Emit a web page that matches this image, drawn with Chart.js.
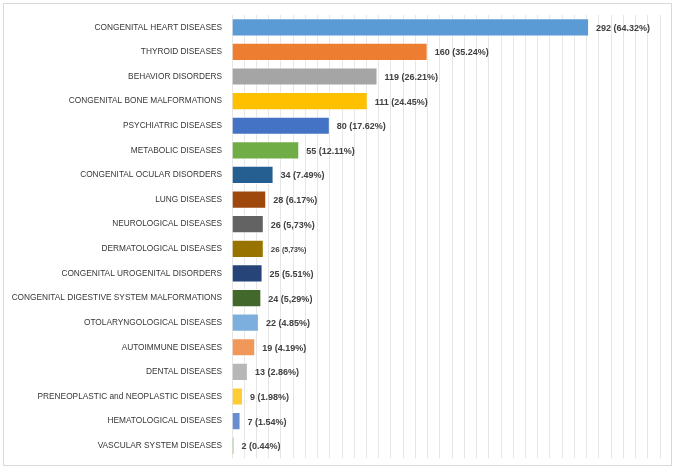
<!DOCTYPE html>
<html>
<head>
<meta charset="utf-8">
<script src="https://cdn.jsdelivr.net/npm/chart.js@4/dist/chart.umd.min.js"></script>
<style>
  html, body { margin: 0; padding: 0; background: #fff; }
  #wrap { position: relative; width: 675px; height: 473px; }
</style>
</head>
<body>
<div id="wrap"><canvas id="diseaseChart"></canvas></div>
<script>
const categories = [
  'CONGENITAL HEART DISEASES',
  'THYROID DISEASES',
  'BEHAVIOR DISORDERS',
  'CONGENITAL BONE MALFORMATIONS',
  'PSYCHIATRIC DISEASES',
  'METABOLIC DISEASES',
  'CONGENITAL OCULAR DISORDERS',
  'LUNG DISEASES',
  'NEUROLOGICAL DISEASES',
  'DERMATOLOGICAL DISEASES',
  'CONGENITAL UROGENITAL DISORDERS',
  'CONGENITAL DIGESTIVE SYSTEM MALFORMATIONS',
  'OTOLARYNGOLOGICAL DISEASES',
  'AUTOIMMUNE DISEASES',
  'DENTAL DISEASES',
  'PRENEOPLASTIC and NEOPLASTIC DISEASES',
  'HEMATOLOGICAL DISEASES',
  'VASCULAR SYSTEM DISEASES'
];
const counts = [292, 160, 119, 111, 80, 55, 34, 28, 26, 26, 25, 24, 22, 19, 13, 9, 7, 2];
const percentLabels = ['64.32%', '35.24%', '26.21%', '24.45%', '17.62%', '12.11%', '7.49%', '6.17%',
  '5,73%', '5,73%', '5.51%', '5,29%', '4.85%', '4.19%', '2.86%', '1.98%', '1.54%', '0.44%'];
const barColors = ['#5B9BD5', '#ED7D31', '#A5A5A5', '#FFC000', '#4472C4', '#70AD47', '#255E91', '#9E480E',
  '#636363', '#997300', '#264478', '#43682B', '#7CAFDD', '#F1975A', '#B7B7B7', '#FFCD33', '#698ED0', '#8CC168'];

const FONT = "'Liberation Sans', Arial, sans-serif";

// frame around the whole picture
const framePlugin = {
  id: 'frame',
  beforeDraw(chart) {
    const ctx = chart.ctx;
    ctx.save();
    ctx.strokeStyle = '#d9d9d9';
    ctx.lineWidth = 1;
    ctx.strokeRect(3.5, 3.5, 668, 462);
    ctx.restore();
  }
};

// "292 (64.32%)" at the end of each bar
const valueLabels = {
  id: 'valueLabels',
  afterDatasetsDraw(chart) {
    const ctx = chart.ctx;
    const meta = chart.getDatasetMeta(0);
    ctx.save();
    ctx.fillStyle = '#404040';
    ctx.textBaseline = 'middle';
    ctx.textAlign = 'left';
    meta.data.forEach((bar, i) => {
      const small = i === 9;
      const x = bar.x + 7;
      ctx.font = 'bold ' + (small ? 8 : 9) + 'px ' + FONT;
      if (small) {
        ctx.fillText(counts[i] + ' ', x, bar.y + 1);
        const w = ctx.measureText(counts[i] + ' ').width;
        ctx.font = 'bold 7px ' + FONT;
        ctx.fillText('(' + percentLabels[i] + ')', x + w, bar.y + 1);
      } else {
        ctx.fillText(counts[i] + ' (' + percentLabels[i] + ')', x, bar.y + 1);
      }
    });
    ctx.restore();
  }
};

new Chart(document.getElementById('diseaseChart'), {
  type: 'bar',
  data: {
    labels: categories,
    datasets: [{
      data: counts,
      backgroundColor: barColors,
      borderColor: 'rgba(255,255,255,0.6)',
      borderWidth: 1,
      barPercentage: 0.74,
      categoryPercentage: 1
    }]
  },
  options: {
    indexAxis: 'y',
    responsive: true,
    maintainAspectRatio: false,
    animation: false,
    layout: { padding: { top: 13, bottom: 14, left: 8, right: 15 } },
    plugins: {
      legend: { display: false },
      tooltip: { enabled: false }
    },
    scales: {
      x: {
        min: 0,
        max: 350,
        ticks: { display: false, stepSize: 10 },
        grid: { color: '#e6e6e6', drawTicks: false },
        border: { display: false },
        afterFit(scale) { scale.height = 0; }
      },
      y: {
        grid: { display: false, drawTicks: false },
        border: { display: false },
        ticks: {
          color: '#363636',
          padding: 10,
          autoSkip: false,
          font: { family: FONT, size: 8.3 }
        },
        afterFit(scale) { scale.width = 224; }
      }
    }
  },
  plugins: [framePlugin, valueLabels]
});
</script>
</body>
</html>
